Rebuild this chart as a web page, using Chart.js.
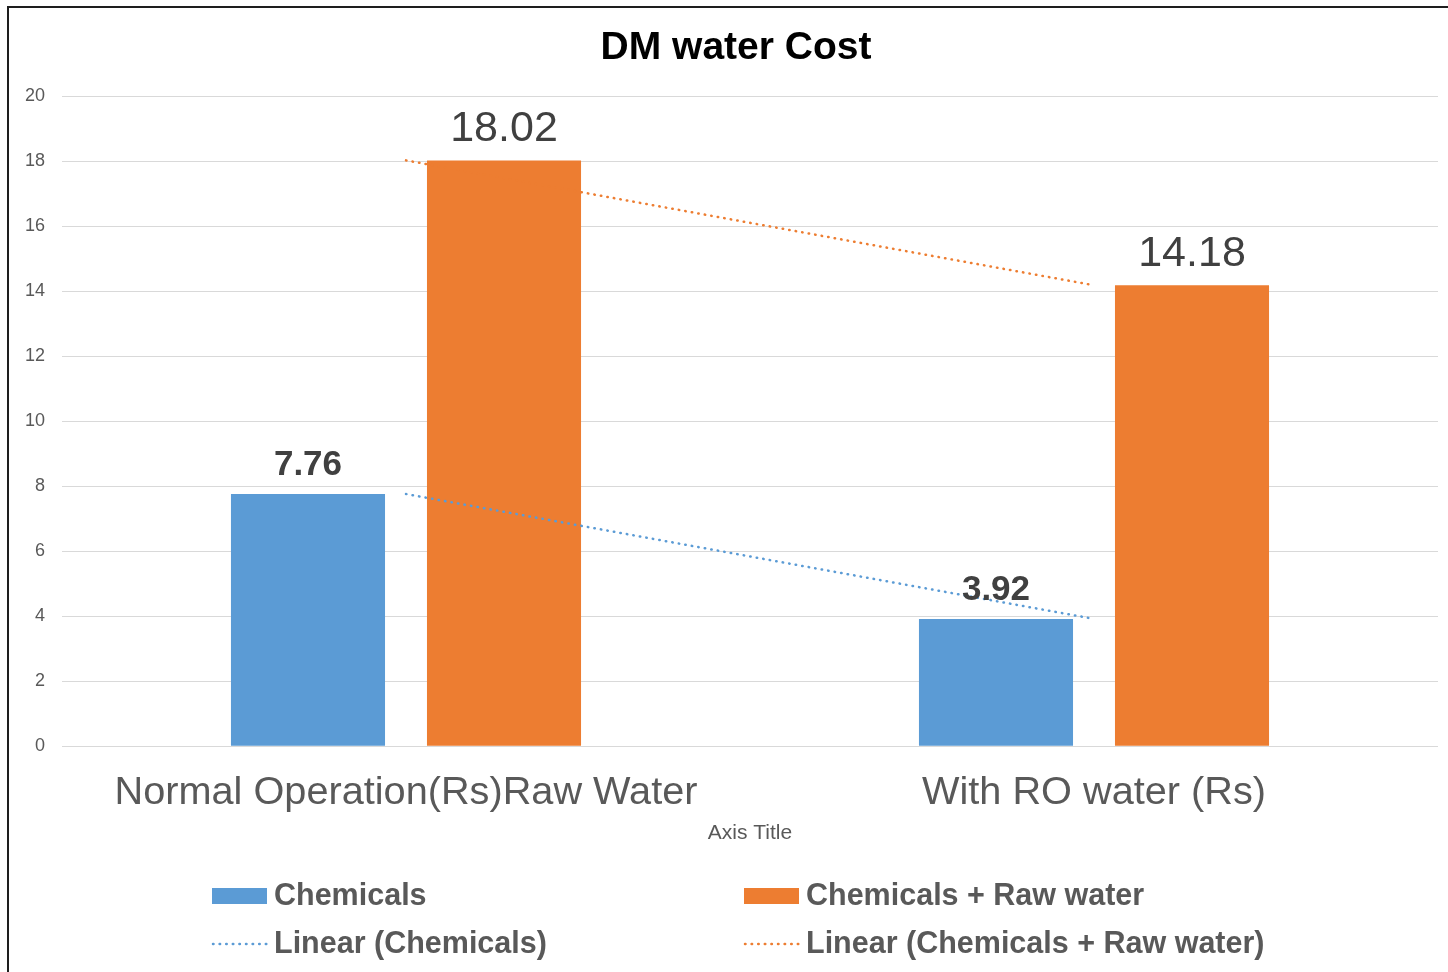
<!DOCTYPE html>
<html><head><meta charset="utf-8">
<script src="https://cdn.jsdelivr.net/npm/chart.js@4/dist/chart.umd.min.js"></script>
<style>html,body{margin:0;padding:0;background:#fff;overflow:hidden}
#wrap{position:absolute;left:0;top:0;width:1448px;height:972px}</style>
</head><body><div id="wrap"><canvas id="c" width="1448" height="972"></canvas></div>
<script>
// ---- data ----
const categories = ['Normal Operation(Rs)Raw Water', 'With RO water (Rs)'];
const chemicals = [7.76, 3.92];
const chemicalsRaw = [18.02, 14.18];
const linearChemicals = [7.76, 3.92];
const linearChemicalsRaw = [18.02, 14.18];
const seriesNames = ['Chemicals', 'Chemicals + Raw water', 'Linear (Chemicals)', 'Linear (Chemicals + Raw water)'];
const yMin = 0, yMax = 20, yStep = 2;
const chartTitle = 'DM water Cost';
const xAxisTitle = 'Axis Title';

const BLUE = '#5b9bd5', ORANGE = '#ed7d31';
const FONT = '"Liberation Sans", Arial, sans-serif';
Chart.defaults.font.family = FONT;

const framePlugin = {
  id: 'frame',
  afterLayout(chart) {
    // let the y tick labels extend left of the axis box without being clipped
    chart.scales.y.left = 0;
  },
  beforeDraw(chart) {
    const ctx = chart.ctx;
    ctx.save();
    ctx.fillStyle = '#fff';
    ctx.fillRect(0, 0, chart.width, chart.height);
    ctx.fillStyle = '#1e1e1e';
    ctx.fillRect(7, 6, 2, chart.height - 6);
    ctx.fillRect(7, 6, chart.width - 7, 2);
    ctx.restore();
  }
};

const labelPlugin = {
  id: 'barLabels',
  afterDatasetsDraw(chart) {
    const ctx = chart.ctx;
    ctx.save();
    ctx.fillStyle = '#404040';
    ctx.textAlign = 'center';
    ctx.textBaseline = 'alphabetic';
    chart.data.datasets.forEach((ds, i) => {
      if (ds.type !== 'bar') return;
      const meta = chart.getDatasetMeta(i);
      ctx.font = ds.labelFont;
      meta.data.forEach((el, j) => {
        ctx.fillText(ds.data[j].toFixed(2), el.x, el.y - ds.labelGap);
      });
    });
    ctx.restore();
  }
};

const legendPlugin = {
  id: 'gridLegend',
  afterDraw(chart) {
    const ctx = chart.ctx;
    const cols = [212, 744];
    const rows = [896, 944];
    // [dataset index, column, row]
    const order = [[0, 0, 0], [1, 1, 0], [2, 0, 1], [3, 1, 1]];
    ctx.save();
    ctx.font = 'bold 30.5px ' + FONT;
    ctx.textBaseline = 'middle';
    ctx.textAlign = 'left';
    order.forEach(([di, c, r]) => {
      const ds = chart.data.datasets[di];
      const x = cols[c], y = rows[r];
      if (ds.type === 'bar') {
        ctx.fillStyle = ds.backgroundColor;
        ctx.fillRect(x, y - 8, 55, 16);
      } else {
        ctx.strokeStyle = ds.borderColor;
        ctx.lineWidth = ds.borderWidth;
        ctx.lineCap = 'round';
        ctx.setLineDash(ds.borderDash);
        ctx.beginPath();
        ctx.moveTo(x + 1, y);
        ctx.lineTo(x + 55, y);
        ctx.stroke();
        ctx.setLineDash([]);
      }
      ctx.fillStyle = '#595959';
      ctx.fillText(ds.label, x + 62, y + 1);
    });
    ctx.restore();
  }
};

new Chart(document.getElementById('c'), {
  type: 'bar',
  data: {
    labels: categories,
    datasets: [
      { type: 'bar', label: seriesNames[0], data: chemicals, backgroundColor: BLUE, borderWidth: 0,
        barPercentage: 0.786, categoryPercentage: 0.5698, order: 2,
        labelFont: 'bold 35px ' + FONT, labelGap: 19 },
      { type: 'bar', label: seriesNames[1], data: chemicalsRaw, backgroundColor: ORANGE, borderWidth: 0,
        barPercentage: 0.786, categoryPercentage: 0.5698, order: 3,
        labelFont: '43px ' + FONT, labelGap: 19 },
      { type: 'line', label: seriesNames[2], data: linearChemicals, borderColor: BLUE, backgroundColor: BLUE,
        borderWidth: 2.5, borderDash: [0.5, 6.1], borderCapStyle: 'round', pointRadius: 0, fill: false, order: 0 },
      { type: 'line', label: seriesNames[3], data: linearChemicalsRaw, borderColor: ORANGE, backgroundColor: ORANGE,
        borderWidth: 2.5, borderDash: [0.5, 6.1], borderCapStyle: 'round', pointRadius: 0, fill: false, order: 1 }
    ]
  },
  options: {
    responsive: false,
    animation: false,
    devicePixelRatio: 1,
    layout: { padding: { left: 34, right: 10, top: 0, bottom: 126.4 } },
    plugins: {
      legend: { display: false },
      tooltip: { enabled: false },
      title: { display: true, text: chartTitle, color: '#000',
        font: { size: 39, weight: 'bold', family: FONT, lineHeight: 1.2 },
        padding: { top: 24.6, bottom: 24.6 } }
    },
    scales: {
      x: {
        grid: { display: false, drawTicks: false },
        border: { display: false },
        ticks: { color: '#595959', font: { size: 39.7, lineHeight: 1.2 }, padding: 23, maxRotation: 0, autoSkip: false },
        title: { display: true, text: xAxisTitle, color: '#595959', font: { size: 21, lineHeight: 1.2 }, padding: { top: -19.6, bottom: 0 } }
      },
      y: {
        min: yMin, max: yMax,
        ticks: { stepSize: yStep, color: '#595959', font: { size: 18 }, padding: 17 },
        grid: { color: '#d9d9d9', lineWidth: 1, drawTicks: false },
        border: { display: false },
        afterFit(s) { s.width = 28; }
      }
    }
  },
  plugins: [framePlugin, labelPlugin, legendPlugin]
});
</script></body></html>
